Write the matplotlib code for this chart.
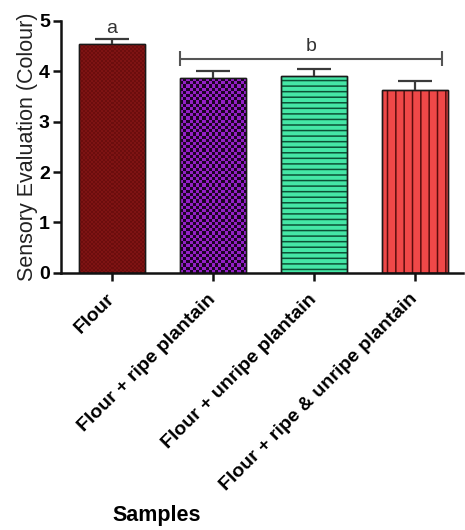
import numpy as np
import matplotlib
matplotlib.use("Agg")
import matplotlib.pyplot as plt

# data
samples = ["Flour", "Flour + ripe plantain", "Flour + unripe plantain",
           "Flour + ripe & unripe plantain"]
means = [4.53, 3.86, 3.90, 3.63]
errs = [0.11, 0.14, 0.15, 0.18]
letters = ["a", "b"]

plt.rcParams['font.family'] = ['Liberation Sans', 'DejaVu Sans']
plt.rcParams['hatch.linewidth'] = 1.1

fig = plt.figure(figsize=(4.65, 5.3), dpi=100)
ax = fig.add_axes([0.131, 0.485, 0.865, 0.476])

x = np.arange(len(samples))
w = 0.66
ax.set_xlim(-0.505, 3.475)
ax.set_ylim(0, 5)

# plain fills and outlines
faces = ['#7a1010', '#8c1cc0', '#45e6a6', '#ef4848']
bars = ax.bar(x, means, width=w, color=faces, edgecolor='#1a1a1a', linewidth=1.0, zorder=2)

# textures
def checker(bar, c1, c2, cell_px):
    x0, y0 = bar.get_x(), bar.get_y()
    bw, bh = bar.get_width(), bar.get_height()
    p0 = ax.transData.transform((x0, y0))
    p1 = ax.transData.transform((x0 + bw, y0 + bh))
    nx = max(1, int(round((p1[0] - p0[0]) / cell_px)))
    ny = max(1, int(round((p1[1] - p0[1]) / cell_px)))
    grid = (np.add.outer(np.arange(ny), np.arange(nx)) % 2).astype(float)
    cmap = matplotlib.colors.ListedColormap([c1, c2])
    im = ax.imshow(grid, extent=(x0, x0 + bw, y0, y0 + bh), cmap=cmap,
                   interpolation='nearest', aspect='auto', origin='lower', zorder=2.1)
    im.set_clip_path(bar)

checker(bars[0], '#6c0d0d', '#7e1313', 2.0)
checker(bars[1], '#9420c8', '#1c0426', 3.2)

ax.bar(x[2], means[2], width=w, facecolor='none', edgecolor='#0c5236',
       hatch='---', linewidth=0, zorder=2.2)
ax.bar(x[3], means[3], width=w, facecolor='none', edgecolor='#5a0c0c',
       hatch='||', linewidth=0, zorder=2.2)
# outlines on top
ax.bar(x, means, width=w, facecolor='none', edgecolor='#1a1a1a', linewidth=1.0, zorder=2.3)

# upper error bars
tops = np.array(means) + np.array(errs)
ax.vlines(x, means, tops, color='#3a3a3a', lw=1.6, zorder=3)
ax.hlines(tops, x - 0.17, x + 0.17, color='#3a3a3a', lw=1.6, zorder=3)

# significance letters and bracket
ax.text(x[0], tops[0] + 0.04, letters[0], ha='center', va='bottom', fontsize=14, color='#333333')
bx0, bx1, by = 0.67, 3.27, 4.25
ax.hlines(by, bx0, bx1, color='#555555', lw=1.5)
ax.vlines([bx0, bx1], by - 0.15, by + 0.15, color='#555555', lw=1.5)
ax.text((bx0 + bx1) / 2, by + 0.06, letters[1], ha='center', va='bottom', fontsize=14, color='#333333')

# axes styling
for s in ['top', 'right']:
    ax.spines[s].set_visible(False)
for s in ['left', 'bottom']:
    ax.spines[s].set_linewidth(1.8)
    ax.spines[s].set_color('#111111')
ax.tick_params(width=1.8, length=6, color='#111111')
ax.tick_params(axis='y', pad=2)
ax.set_yticks(range(6))
ax.set_yticklabels([str(i) for i in range(6)], fontsize=14, fontweight='bold')
ax.set_xticks(x)
ax.set_xticklabels(samples, rotation=45, ha='right', va='center', rotation_mode='anchor',
                   fontsize=14, fontweight='bold')
ax.tick_params(axis='x', pad=11)
ax.set_ylabel('Sensory Evaluation (Colour)', fontsize=15.5, color='#222222', labelpad=1)

fig.text(0.338, 0.008, 'Samples', ha='center', va='bottom', fontsize=15.5, fontweight='bold')

fig.savefig('out.png', dpi=100)
